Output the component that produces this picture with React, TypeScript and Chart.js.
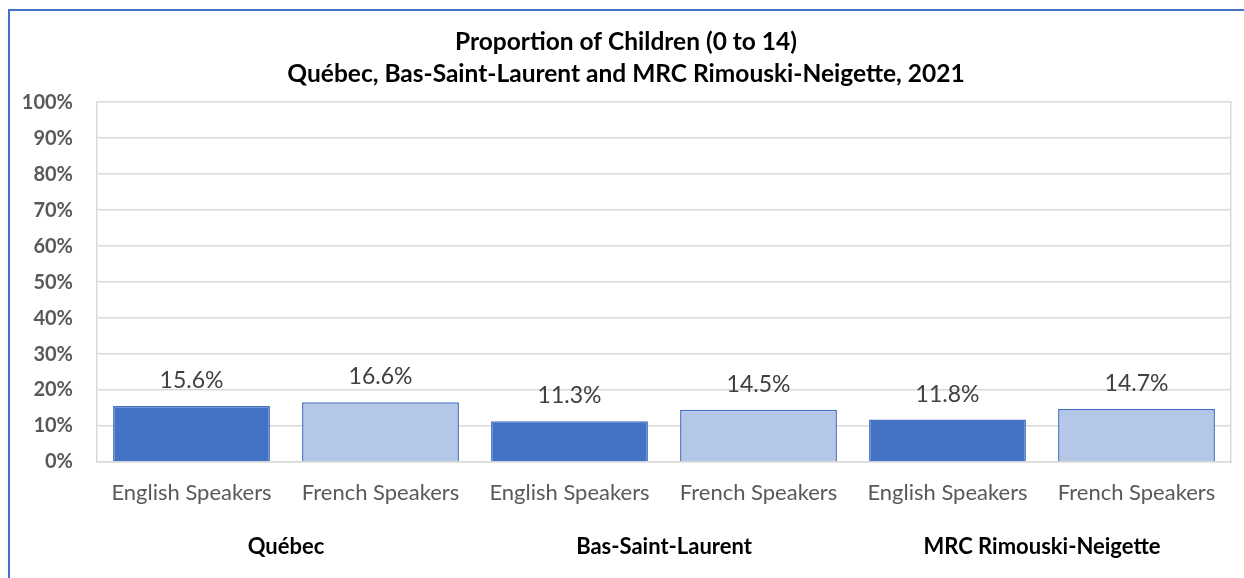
import React, { useEffect, useRef } from "react";
import { Chart, registerables } from "chart.js";

Chart.register(...registerables);

const titleLines = ["Proportion of Children (0 to 14)", "Québec, Bas-Saint-Laurent and MRC Rimouski-Neigette, 2021"];
const categories = ["English Speakers", "French Speakers", "English Speakers", "French Speakers", "English Speakers", "French Speakers"];
const groups = ["Québec", "Bas-Saint-Laurent", "MRC Rimouski-Neigette"];
const values = [15.6, 16.6, 11.3, 14.5, 11.8, 14.7];
const barColors = ["#4472C4", "#B4C7E7", "#4472C4", "#B4C7E7", "#4472C4", "#B4C7E7"];

const FONT = "Lato, 'Open Sans', sans-serif";

const dataLabelPlugin = {
  id: "dataLabels",
  afterDatasetsDraw(chart: any) {
    const ctx = chart.ctx;
    const meta = chart.getDatasetMeta(0);
    ctx.save();
    ctx.font = `23px ${FONT}`;
    ctx.fillStyle = "#404040";
    ctx.textAlign = "center";
    ctx.textBaseline = "alphabetic";
    meta.data.forEach((bar: any, i: number) => {
      ctx.fillText(values[i].toFixed(1) + "%", bar.x, bar.y - 18);
    });
    ctx.restore();
  },
};

export default function App() {
  const ref = useRef<HTMLCanvasElement>(null);
  useEffect(() => {
    if (!ref.current) return;
    const chart = new Chart(ref.current, {
      type: "bar",
      data: {
        labels: categories,
        datasets: [
          {
            data: values,
            backgroundColor: barColors,
            borderColor: "#4472C4",
            borderWidth: 1.5,
            categoryPercentage: 1,
            barPercentage: 0.83,
          },
        ],
      },
      options: {
        animation: false,
        responsive: false,
        maintainAspectRatio: false,
        layout: { autoPadding: false, padding: { left: 11, right: 13, top: 16, bottom: 18 } },
        plugins: {
          legend: { display: false },
          tooltip: { enabled: false },
          title: {
            display: true,
            text: titleLines,
            color: "#000000",
            font: { family: FONT, size: 24.5, weight: "bold", lineHeight: 1.27 },
            padding: { top: 0, bottom: 13 },
          },
        },
        scales: {
          y: {
            min: 0,
            max: 100,
            afterFit: (s: any) => {
              s.width = 76;
            },
            ticks: {
              stepSize: 10,
              callback: (v: any) => v + "%",
              color: "#595959",
              font: { family: FONT, size: 20, weight: "bold" },
              padding: 24,
            },
            grid: { color: "#D9D9D9", lineWidth: 1.5, drawTicks: false },
            border: { display: true, color: "#D9D9D9", width: 1.5 },
          },
          yRight: {
            position: "right",
            min: 0,
            max: 100,
            afterFit: (s: any) => {
              s.width = 0;
            },
            ticks: { display: false },
            grid: { display: false, drawTicks: false },
            border: { display: true, color: "#D9D9D9", width: 1.5 },
          },
          x: {
            afterFit: (s: any) => {
              s.height = 44;
            },
            ticks: {
              color: "#595959",
              font: { family: FONT, size: 22 },
              padding: 18,
              maxRotation: 0,
              autoSkip: false,
            },
            grid: { display: false, drawTicks: false },
            border: { display: true, color: "#D9D9D9", width: 1.5 },
          },
          x2: {
            type: "category",
            labels: groups,
            position: "bottom",
            offset: true,
            weight: 1,
            afterFit: (s: any) => {
              s.height = 54;
            },
            ticks: {
              color: "#000000",
              font: { family: FONT, size: 22, weight: "bold" },
              padding: 28,
              maxRotation: 0,
              autoSkip: false,
            },
            grid: { display: false, drawTicks: false },
            border: { display: false },
          },
        } as any,
      },
      plugins: [dataLabelPlugin],
    } as any);
    return () => chart.destroy();
  }, []);
  return (
    <div
      style={{
        position: "absolute",
        left: 8,
        top: 9,
        width: 1236,
        height: 569,
        boxSizing: "border-box",
        borderTop: "2px solid #4472C4",
        borderLeft: "2px solid #4472C4",
        background: "#fff",
      }}
    >
      <canvas ref={ref} width={1234} height={567} style={{ display: "block" }} />
    </div>
  );
}
